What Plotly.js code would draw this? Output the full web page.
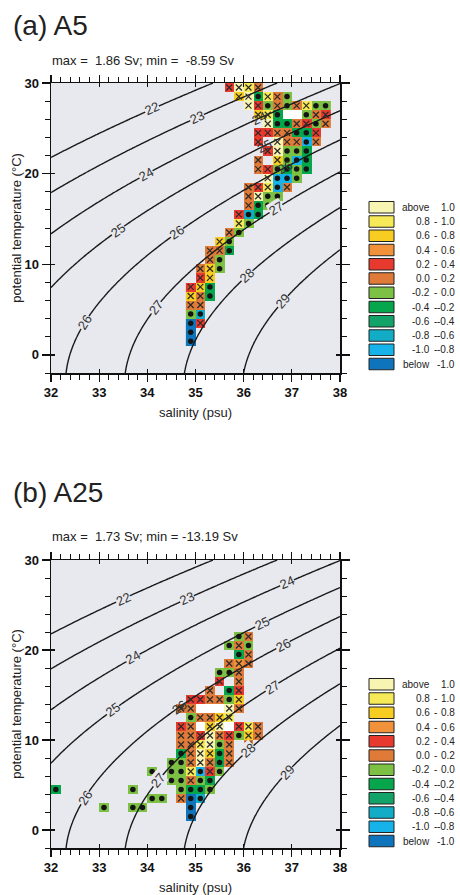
<!DOCTYPE html>
<html>
<head>
<meta charset="utf-8">
<script src="https://cdn.plot.ly/plotly-3.0.1.min.js"></script>
<style>html,body{margin:0;padding:0;background:#fff;}#chart{width:460px;height:895px;}</style>
</head>
<body>
<div id="chart"></div>
<script>
// ---------------- DATA ----------------
// Panel (a) A5 : cell centres (salinity psu, potential temperature degC) and transport value (Sv); null = white cell
const a5_salinity = [
 35.7,35.9,36.1,36.3,
 35.9,36.1,36.3,36.5,36.7,36.9,
 36.1,36.3,36.5,36.7,36.9,37.1,37.3,37.5,37.7,
 36.3,36.5,36.7,36.9,37.1,37.3,37.5,37.7,
 36.5,36.7,36.9,37.1,37.3,37.5,37.7,
 36.3,36.5,36.7,36.9,37.1,37.3,37.5,
 36.3,36.7,36.9,37.1,37.3,37.5,
 36.5,36.7,36.9,37.1,37.3,
 36.3,36.7,36.9,37.1,37.3,
 36.3,36.5,36.7,36.9,37.1,37.3,
 36.5,36.7,36.9,37.1,
 36.1,36.3,36.5,36.7,36.9,
 36.1,36.3,36.5,36.7,
 36.1,36.3,36.5,
 35.9,36.1,36.3,
 35.9,36.1,
 35.7,35.9,
 35.5,35.7,
 35.3,35.5,35.7,
 35.3,35.5,
 35.1,35.3,35.5,
 35.1,35.3,
 34.9,35.1,35.3,
 34.9,35.1,35.3,
 34.9,35.1,
 34.9,35.1,
 34.9,35.1,
 34.9,
 34.9
];
const a5_temperature = [
 29.5,29.5,29.5,29.5,
 28.5,28.5,28.5,28.5,28.5,28.5,
 27.5,27.5,27.5,27.5,27.5,27.5,27.5,27.5,27.5,
 26.5,26.5,26.5,26.5,26.5,26.5,26.5,26.5,
 25.5,25.5,25.5,25.5,25.5,25.5,25.5,
 24.5,24.5,24.5,24.5,24.5,24.5,24.5,
 23.5,23.5,23.5,23.5,23.5,23.5,
 22.5,22.5,22.5,22.5,22.5,
 21.5,21.5,21.5,21.5,21.5,
 20.5,20.5,20.5,20.5,20.5,20.5,
 19.5,19.5,19.5,19.5,
 18.5,18.5,18.5,18.5,18.5,
 17.5,17.5,17.5,17.5,
 16.5,16.5,16.5,
 15.5,15.5,15.5,
 14.5,14.5,
 13.5,13.5,
 12.5,12.5,
 11.5,11.5,11.5,
 10.5,10.5,
 9.5,9.5,9.5,
 8.5,8.5,
 7.5,7.5,7.5,
 6.5,6.5,6.5,
 5.5,5.5,
 4.5,4.5,
 3.5,3.5,
 2.5,
 1.5
];
const a5_transport = [
 0.3,1.2,0.9,0.1,
 0.7,1.2,-0.3,0.9,0.1,-0.1,
 1.2,0.3,-0.1,0.1,-0.1,0.1,0.9,-0.1,-0.1,
 0.7,0.9,-0.3,null,null,-0.1,0.1,0.3,
 1.2,-0.3,-0.3,0.1,0.3,-0.1,0.1,
 0.3,0.3,0.1,0.1,-0.3,-0.3,0.3,
 0.3,1.2,0.1,0.1,-0.9,0.1,
 0.3,1.2,-0.1,-0.1,-0.3,
 0.1,0.7,-0.1,-0.9,-0.3,
 0.1,0.3,-0.1,-0.3,-0.1,-0.3,
 1.2,-0.9,-0.9,-0.1,
 0.1,0.3,0.9,-0.9,0.1,
 0.1,1.2,-0.1,-0.1,
 0.1,-0.3,-0.1,
 0.3,-0.7,-0.3,
 0.9,-0.1,
 0.1,-0.1,
 0.7,-0.1,
 0.1,0.1,-0.3,
 0.1,-0.1,
 0.1,0.7,-0.1,
 0.3,0.7,
 0.3,0.7,-0.3,
 0.7,0.1,-0.3,
 0.1,0.1,
 -0.1,-0.7,
 -1.5,0.3,
 -1.5,
 -1.5
];

// Panel (b) A25
const a25_salinity = [
 35.9,36.1,
 35.7,35.9,36.1,
 35.9,36.1,
 35.7,35.9,36.1,
 35.5,35.7,35.9,
 35.5,35.9,
 35.3,35.7,35.9,
 34.9,35.1,35.3,35.5,35.7,35.9,
 34.7,34.9,35.1,35.3,35.5,35.7,35.9,
 34.9,35.1,35.3,35.5,35.7,
 34.7,34.9,35.1,35.3,35.5,35.7,35.9,36.1,36.3,
 34.7,34.9,35.1,35.3,35.5,35.7,35.9,36.1,36.3,
 34.7,34.9,35.1,35.3,35.5,35.7,36.1,
 34.7,34.9,35.1,35.3,35.5,35.7,
 34.5,34.7,34.9,35.1,35.3,35.5,35.7,
 34.1,34.5,34.7,34.9,35.1,35.3,35.5,
 34.5,34.7,34.9,35.1,35.3,
 32.1,33.7,34.7,34.9,35.1,35.3,
 32.7,34.1,34.3,34.7,34.9,35.1,
 33.1,33.7,33.9,34.9,
 34.9
];
const a25_temperature = [
 21.5,21.5,
 20.5,20.5,20.5,
 19.5,19.5,
 18.5,18.5,18.5,
 17.5,17.5,17.5,
 16.5,16.5,
 15.5,15.5,15.5,
 14.5,14.5,14.5,14.5,14.5,14.5,
 13.5,13.5,13.5,13.5,13.5,13.5,13.5,
 12.5,12.5,12.5,12.5,12.5,
 11.5,11.5,11.5,11.5,11.5,11.5,11.5,11.5,11.5,
 10.5,10.5,10.5,10.5,10.5,10.5,10.5,10.5,10.5,
 9.5,9.5,9.5,9.5,9.5,9.5,9.5,
 8.5,8.5,8.5,8.5,8.5,8.5,
 7.5,7.5,7.5,7.5,7.5,7.5,7.5,
 6.5,6.5,6.5,6.5,6.5,6.5,6.5,
 5.5,5.5,5.5,5.5,5.5,
 4.5,4.5,4.5,4.5,4.5,4.5,
 3.5,3.5,3.5,3.5,3.5,3.5,
 2.5,2.5,2.5,2.5,
 1.5
];
const a25_transport = [
 -0.1,0.1,
 -0.1,0.1,-0.1,
 -0.3,0.1,
 0.1,0.5,0.1,
 -0.1,-0.1,0.1,
 0.3,0.1,
 0.1,-0.3,0.3,
 0.3,0.3,0.1,0.1,-0.1,0.7,
 0.1,0.1,null,null,null,1.2,0.1,
 -0.1,0.1,0.1,0.7,0.9,
 0.3,0.1,null,0.7,1.2,null,0.3,0.9,0.1,
 0.1,0.1,0.3,1.2,0.1,0.3,-0.1,0.7,0.1,
 0.1,0.1,0.9,1.2,-0.1,0.1,0.1,
 -0.3,0.1,1.2,0.7,-0.3,0.1,
 -0.1,-0.1,0.1,1.2,0.1,-0.3,0.1,
 -0.1,-0.1,-0.1,0.9,-0.9,0.3,-0.1,
 -0.1,-0.1,0.1,-0.1,-0.3,
 -0.3,-0.1,-0.1,-0.3,-0.3,-0.1,
 -0.3,-0.1,-0.1,0.1,-1.5,-0.7,
 -0.1,-0.1,-0.1,-1.5,
 -1.5
];

// Colour classes (legend)
const classLabelsLeft  = ['above','0.8','0.6','0.4','0.2','0.0','-0.2','-0.4','-0.6','-0.8','-1.0','below'];
const classLabelsRight = ['1.0','1.0','0.8','0.6','0.4','0.2','0.0','-0.2','-0.4','-0.6','-0.8','-1.0'];
const classColors = ['#f8f4b2','#f7ea58','#f8cd22','#f1923a','#e8392f','#df7a38','#7cc144','#06a64c','#11a367','#12acc6','#16b3ea','#0e74bb'];
const classLower = [1.0,0.8,0.6,0.4,0.2,0.0,-0.2,-0.4,-0.6,-0.8,-1.0,-Infinity];

// Density contour levels and label positions (salinity of each label)
const sigmaLevels = [22,23,24,25,26,27,28,29];
const a5_labelLevel = [22,23,24,24,25,25,26,26,26,27,27,28,29];
const a5_labelS     = [34.1,35.03,33.97,36.32,33.39,36.42,32.7,34.61,36.85,34.18,36.67,36.07,36.81];
const a5_labelOverCells = [false,false,false,true,false,true,false,false,true,false,false,false,false];
const a25_labelLevel = [22,23,24,24,25,25,26,26,26,27,27,28,29];
const a25_labelS     = [33.49,34.82,33.7,36.9,33.29,36.38,32.7,34.66,36.81,34.22,36.59,36.09,36.9];
const a25_labelOverCells = [false,false,false,false,false,false,false,true,false,false,false,false,false];

// ---------------- HELPERS ----------------
const FONT = 'Liberation Sans, Arial, Helvetica, sans-serif';
const BG = '#e8e9ee';
const W = 460, H = 895;

function sigma0(S, T) { // UNESCO EOS-80 at surface pressure
  const rw = 999.842594 + 6.793952e-2*T - 9.095290e-3*T*T + 1.001685e-4*T**3 - 1.120083e-6*T**4 + 6.536332e-9*T**5;
  const A = 8.24493e-1 - 4.0899e-3*T + 7.6438e-5*T*T - 8.2467e-7*T**3 + 5.3875e-9*T**4;
  const B = -5.72466e-3 + 1.0227e-4*T - 1.6546e-6*T*T;
  return rw + A*S + B*Math.pow(S,1.5) + 4.8314e-4*S*S - 1000;
}
function classOf(v) {
  if (v === null) return 12;
  for (let i = 0; i < classLower.length; i++) if (v > classLower[i] || (i===5 && v>=0)) return i;
  return 11;
}
function grid(S, T, V) {
  const s0 = Math.min(...S), s1 = Math.max(...S), t0 = Math.min(...T), t1 = Math.max(...T);
  const nx = Math.round((s1-s0)/0.2)+1, ny = Math.round(t1-t0)+1;
  const xs = Array.from({length:nx}, (_,i)=> +(s0+0.2*i).toFixed(2));
  const ys = Array.from({length:ny}, (_,j)=> t0+j);
  const z = ys.map(()=> xs.map(()=> null));
  for (let k=0;k<S.length;k++) {
    z[Math.round(T[k]-t0)][Math.round((S[k]-s0)/0.2)] = classOf(V[k]);
  }
  return {xs, ys, z};
}
const allColors = classColors.concat(['#ffffff']);
const cscale = [];
allColors.forEach((c,i)=>{ cscale.push([i/13, c]); cscale.push([(i+1)/13, c]); });

const cgx = [], cgy = [];
for (let s=32; s<=38.0001; s+=0.04) cgx.push(+s.toFixed(3));
for (let t=-2; t<=30.0001; t+=0.2) cgy.push(+t.toFixed(3));
const cgz = cgy.map(t => cgx.map(s => sigma0(s,t)));

function panelTraces(S, T, V, xa, ya, xa2, ya2) {
  const g = grid(S, T, V);
  const pos = {x:[],y:[]}, neg = {x:[],y:[]};
  for (let k=0;k<S.length;k++) {
    if (V[k]===null) continue;
    if (V[k] > 0) { pos.x.push(S[k]); pos.y.push(T[k]); } else { neg.x.push(S[k]); neg.y.push(T[k]); }
  }
  return [
    {type:'heatmap', x:g.xs, y:g.ys, z:g.z, zmin:-0.5, zmax:12.5, colorscale:cscale, showscale:false, hoverinfo:'skip', xaxis:xa, yaxis:ya},
    {type:'contour', x:cgx, y:cgy, z:cgz, autocontour:false,
     contours:{start:sigmaLevels[0], end:sigmaLevels[sigmaLevels.length-1], size:1, coloring:'lines', showlabels:false},
     colorscale:[[0,'#1a1a1a'],[1,'#1a1a1a']], line:{width:1.4, smoothing:1}, showscale:false, hoverinfo:'skip', xaxis:xa, yaxis:ya},
    {type:'scatter', mode:'markers', x:pos.x, y:pos.y, marker:{symbol:'x-thin', size:6, line:{width:1.2, color:'#2a2a2a'}}, hoverinfo:'skip', xaxis:xa, yaxis:ya},
    {type:'scatter', mode:'markers', x:neg.x, y:neg.y, marker:{symbol:'circle', size:5.5, color:'#141414', line:{width:0}}, hoverinfo:'skip', xaxis:xa, yaxis:ya},
    // empty helper traces so the inner-tick overlay axes get drawn
    {type:'scatter', mode:'markers', x:[], y:[], xaxis:xa2, yaxis:ya, hoverinfo:'skip'},
    {type:'scatter', mode:'markers', x:[], y:[], xaxis:xa, yaxis:ya2, hoverinfo:'skip'}
  ];
}

function contourLabels(levels, Ss, over, xref, yref, pxS, pxT) {
  const out = [];
  levels.forEach((lev, i) => {
    const S = Ss[i];
    let lo = -2, hi = 30;
    if ((sigma0(S,lo)-lev)*(sigma0(S,hi)-lev) > 0) return;
    for (let it=0; it<60; it++) { const m=(lo+hi)/2; if ((sigma0(S,lo)-lev)*(sigma0(S,m)-lev) <= 0) hi=m; else lo=m; }
    const T = (lo+hi)/2;
    const dS = (sigma0(S+0.01,T)-sigma0(S-0.01,T))/0.02, dT = (sigma0(S,T+0.01)-sigma0(S,T-0.01))/0.02;
    const slope = -dS/dT;
    const ang = -Math.atan(slope*pxT/pxS)*180/Math.PI;
    out.push({xref, yref, x:S, y:T, text:String(lev), showarrow:false, textangle:ang,
      font:{family:FONT, size:13, color:'#333'}, bgcolor: over[i] ? 'rgba(0,0,0,0)' : BG, borderpad:0});
  });
  return out;
}

// ---------------- LAYOUT ----------------
const xDom = [51/W, 340/W];
const yDomA = [1-373/H, 1-83/H];
const yDomB = [1-848/H, 1-560/H];
const xMajor = [32,33,34,35,36,37,38], yMajor = [0,10,20,30];

function xAxis(anchor) {
  return {domain:xDom, range:[32,38], anchor, tickvals:xMajor, ticks:'outside', ticklen:7, tickwidth:1.3, tickcolor:'#111',
    showline:true, linecolor:'#111', linewidth:1.5, mirror:'ticks', showgrid:false, zeroline:false,
    minor:{tick0:32, dtick:0.2, ticks:'outside', ticklen:5, tickwidth:1, tickcolor:'#111', showgrid:false},
    tickfont:{family:FONT, size:13, color:'#111', weight:'bold'},
    title:{text:'salinity (psu)', font:{family:FONT, size:13, color:'#222'}, standoff:9}};
}
function yAxis(anchor, dom) {
  return {domain:dom, range:[-2,30], anchor, tickvals:yMajor, ticks:'outside', ticklen:8, tickwidth:1.3, tickcolor:'#111',
    showline:true, linecolor:'#111', linewidth:1.5, mirror:'ticks', showgrid:false, zeroline:false,
    minor:{tick0:0, dtick:2, ticks:'outside', ticklen:5, tickwidth:1, tickcolor:'#111', showgrid:false},
    tickfont:{family:FONT, size:13, color:'#111', weight:'bold'},
    title:{text:'potential temperature (°C)', font:{family:FONT, size:13, color:'#222'}, standoff:0}};
}
function xInner(over, anchor) {
  return {overlaying:over, anchor, range:[32,38], tickvals:xMajor, ticks:'inside', ticklen:4, tickwidth:1.3, tickcolor:'#111',
    showline:true, linecolor:'#111', linewidth:1.5, mirror:'ticks', showticklabels:false, showgrid:false, zeroline:false};
}
function yInner(over, anchor) {
  return {overlaying:over, anchor, range:[-2,30], tickvals:yMajor, ticks:'inside', ticklen:4, tickwidth:1.3, tickcolor:'#111',
    showline:true, linecolor:'#111', linewidth:1.5, mirror:'ticks', showticklabels:false, showgrid:false, zeroline:false};
}

const shapes = [], annotations = [];
function legendAt(topPx) {
  const pitch = 14.25, h = 11.5;
  classColors.forEach((c,i) => {
    const y0 = topPx + i*pitch;
    shapes.push({type:'rect', xref:'paper', yref:'paper', x0:369/W, x1:394/W, y0:1-(y0+h)/H, y1:1-y0/H,
      fillcolor:c, line:{color:'#222', width:1}});
    const yc = 1-(y0+h/2)/H;
    annotations.push({xref:'paper', yref:'paper', x:432/W, y:yc, xanchor:'right', yanchor:'middle', showarrow:false,
      text:classLabelsLeft[i], font:{family:FONT, size:10, color:'#222'}});
    if (i>0 && i<11) annotations.push({xref:'paper', yref:'paper', x:435.5/W, y:yc, xanchor:'center', yanchor:'middle', showarrow:false,
      text:'-', font:{family:FONT, size:10, color:'#222'}});
    annotations.push({xref:'paper', yref:'paper', x:457/W, y:yc, xanchor:'right', yanchor:'middle', showarrow:false,
      text:classLabelsRight[i], font:{family:FONT, size:10, color:'#222'}});
  });
}
legendAt(201.5);
legendAt(678.5);

annotations.push({xref:'paper', yref:'paper', x:11/W, y:1-25/H, xanchor:'left', yanchor:'middle', showarrow:false,
  text:'(a) A5', font:{family:FONT, size:28, color:'#222'}});
annotations.push({xref:'paper', yref:'paper', x:50/W, y:1-61/H, xanchor:'left', yanchor:'middle', showarrow:false,
  text:'max =\u00a0\u00a01.86 Sv; min =\u00a0\u00a0-8.59 Sv', font:{family:FONT, size:13, color:'#222'}});
annotations.push({xref:'paper', yref:'paper', x:11/W, y:1-492/H, xanchor:'left', yanchor:'middle', showarrow:false,
  text:'(b) A25', font:{family:FONT, size:28, color:'#222'}});
annotations.push({xref:'paper', yref:'paper', x:50/W, y:1-536/H, xanchor:'left', yanchor:'middle', showarrow:false,
  text:'max =\u00a0\u00a01.73 Sv; min = -13.19 Sv', font:{family:FONT, size:13, color:'#222'}});

const pxS = 289/6, pxTA = 290/32, pxTB = 288/32;
annotations.push(...contourLabels(a5_labelLevel, a5_labelS, a5_labelOverCells, 'x', 'y', pxS, pxTA));
annotations.push(...contourLabels(a25_labelLevel, a25_labelS, a25_labelOverCells, 'x2', 'y2', pxS, pxTB));

const data = [].concat(
  panelTraces(a5_salinity, a5_temperature, a5_transport, 'x', 'y', 'x3', 'y3'),
  panelTraces(a25_salinity, a25_temperature, a25_transport, 'x2', 'y2', 'x4', 'y4')
);

const layout = {
  width:W, height:H, margin:{l:0,r:0,t:0,b:0}, paper_bgcolor:'#ffffff', plot_bgcolor:BG, showlegend:false,
  font:{family:FONT, color:'#222'},
  xaxis:xAxis('y'), yaxis:yAxis('x', yDomA),
  xaxis2:xAxis('y2'), yaxis2:yAxis('x2', yDomB),
  xaxis3:xInner('x','y'), yaxis3:yInner('y','x'),
  xaxis4:xInner('x2','y2'), yaxis4:yInner('y2','x2'),
  shapes, annotations
};
Plotly.newPlot('chart', data, layout, {staticPlot:true, displayModeBar:false});
</script>
</body>
</html>
